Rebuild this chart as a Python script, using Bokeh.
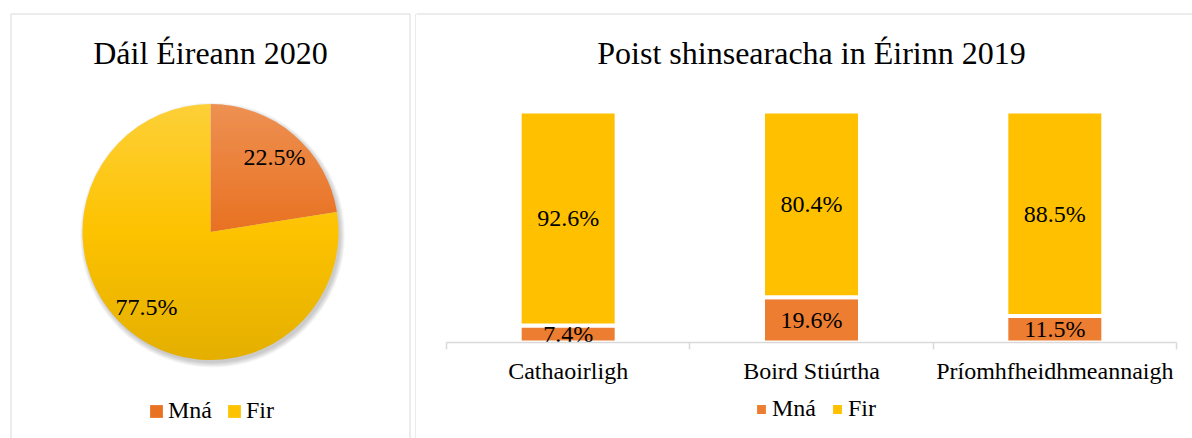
import numpy as np
from bokeh.plotting import figure
from bokeh.models import (Range1d, ColumnDataSource, Legend, LegendItem,
                          LinearAxis, FixedTicker)
from bokeh.layouts import row
from bokeh.core.properties import value
from bokeh.embed import file_html
from bokeh.resources import INLINE

# ---------------- data ----------------
pie_title = "Dáil Éireann 2020"
pie_labels = ["Mná", "Fir"]
pie_values = [22.5, 77.5]

bar_title = "Poist shinsearacha in Éirinn 2019"
bar_categories = ["Cathaoirligh", "Boird Stiúrtha", "Príomhfheidhmeannaigh"]
series_names = ["Mná", "Fir"]
bar_mna = [7.4, 19.6, 11.5]
bar_fir = [92.6, 80.4, 88.5]

# ---------------- styles ----------------
ORANGE = "#ED7D31"
YELLOW = "#FFC000"
PIE_ORANGE = "#E97222"
PIE_YELLOW = "#FDC300"
BORDER = "#D9D9D9"
FONT = "Liberation Serif"
TXT = "#000000"
LBL = "24px"

TOTAL_H = 438
LEFT_W = 416
RIGHT_W = 776

# ================= left panel: pie =================
pl = figure(width=LEFT_W, height=TOTAL_H,
            x_range=Range1d(0, LEFT_W), y_range=Range1d(TOTAL_H, 0),
            x_axis_location=None, y_axis_location=None,
            output_backend="svg", toolbar_location=None, min_border=0)
pl.grid.visible = False
pl.outline_line_color = None
pl.background_fill_color = "white"
pl.border_fill_color = "white"

# panel borders
pl.line(x=[10.5, 10.5, 409.5, 409.5], y=[460, 13.5, 13.5, 460],
        line_color=BORDER, line_width=1)
pl.line(x=[415.5, 415.5, 430], y=[460, 13.5, 13.5], line_color=BORDER, line_width=1)

pl.text(x=[210], y=[52], text=[pie_title], text_font=value(FONT),
        text_font_size=value("32px"), text_align="center",
        text_baseline="middle", text_color=TXT)

cx, cy, r = 210.0, 231.5, 128.0

# soft shadow
for k in range(6):
    pl.circle(x=[cx + 2], y=[cy + 3], radius=r + k * 0.9,
              fill_color="black", fill_alpha=0.035, line_color=None)

fracs = np.array(pie_values) / np.sum(pie_values)
cum = np.concatenate([[0.0], np.cumsum(fracs)])
start = np.pi / 2 - 2 * np.pi * cum[:-1]
end = np.pi / 2 - 2 * np.pi * cum[1:]
pie_src = ColumnDataSource(dict(start=start, end=end,
                                color=[PIE_ORANGE, PIE_YELLOW], label=pie_labels))
w = pl.wedge(x=cx, y=cy, radius=r, start_angle="start", end_angle="end",
             direction="clock", fill_color="color", line_color=None, source=pie_src)

# vertical gradient overlay (light top, darker bottom)
n_strips = 64
edges = np.linspace(cy - r, cy + r, n_strips + 1)
gx, gy, gc, ga = [], [], [], []
for i in range(n_strips):
    ys = np.linspace(edges[i], edges[i + 1], 8)
    xr = cx + np.sqrt(np.clip(r * r - (ys - cy) ** 2, 0, None))
    xl = 2 * cx - xr
    gx.append(np.concatenate([xr, xl[::-1]]))
    gy.append(np.concatenate([ys, ys[::-1]]))
    t = (cy - 0.5 * (edges[i] + edges[i + 1])) / r
    if t > 0:
        gc.append("white"); ga.append(0.22 * t)
    else:
        gc.append("black"); ga.append(0.10 * (-t))
pl.patches(xs=gx, ys=gy, fill_color=gc, fill_alpha=ga, line_color=None)

mid = 0.5 * (start + end)
lab_r = 0.77 * r
pl.text(x=cx + lab_r * np.cos(mid), y=cy - lab_r * np.sin(mid),
        text=[f"{v:.1f}%" for v in pie_values], text_font=value(FONT),
        text_font_size=value(LBL), text_align="center",
        text_baseline="middle", text_color=TXT)

leg_l = Legend(items=[LegendItem(label=value(pie_labels[i]), renderers=[w], index=i)
                      for i in range(len(pie_labels))],
               location=(148, 14), orientation="horizontal",
               glyph_width=16, glyph_height=16, label_standoff=4, spacing=14,
               padding=0, margin=0, border_line_color=None,
               background_fill_alpha=0, label_text_font=FONT,
               label_text_font_size=LBL, label_text_color=TXT)
pl.add_layout(leg_l)

# ================= right panel: stacked bars =================
X0, UX = 446.0, 243.33   # page x of first category boundary, px per category
Y0, UY = 342.0, 2.31     # page y of 0 %, px per percent


def rx(px):
    return (px - X0) / UX


def ry(py):
    return (Y0 - py) / UY


pr = figure(width=RIGHT_W, height=TOTAL_H,
            x_range=Range1d(rx(416), rx(416 + RIGHT_W)),
            y_range=Range1d(ry(TOTAL_H), ry(0)),
            x_axis_location=None, y_axis_location=None,
            output_backend="svg", toolbar_location=None, min_border=0)
pr.grid.visible = False
pr.outline_line_color = None
pr.background_fill_color = "white"
pr.border_fill_color = "white"

pr.line(x=[rx(410), rx(1300)], y=[ry(13.5), ry(13.5)], line_color=BORDER, line_width=1)

pr.text(x=[rx(811)], y=[ry(52)], text=[bar_title], text_font=value(FONT),
        text_font_size=value("32px"), text_align="center",
        text_baseline="middle", text_color=TXT)

n = len(bar_categories)
xs = np.arange(n) + 0.5
bar_src = ColumnDataSource(dict(x=xs, mna=bar_mna, fir=bar_fir))
rs = pr.vbar_stack(["mna", "fir"], x="x", width=97 / UX,
                   fill_color=[ORANGE, YELLOW], line_color="white", line_width=4,
                   source=bar_src)

mna = np.array(bar_mna)
fir = np.array(bar_fir)
lab_x = np.concatenate([xs, xs])
lab_y = np.concatenate([mna / 2, mna + fir / 2])
lab_t = [f"{v:.1f}%" for v in bar_mna] + [f"{v:.1f}%" for v in bar_fir]
pr.text(x=lab_x, y=lab_y, text=lab_t, text_font=value(FONT),
        text_font_size=value(LBL), text_align="center",
        text_baseline="middle", text_color=TXT)

ax = LinearAxis(fixed_location=0,
                ticker=FixedTicker(ticks=list(xs), minor_ticks=list(range(n + 1))),
                bounds=(0, n),
                major_label_overrides={float(x): c for x, c in zip(xs, bar_categories)},
                axis_line_color=BORDER, axis_line_width=1.5,
                major_tick_line_color=None, major_tick_in=0, major_tick_out=0,
                minor_tick_line_color=BORDER, minor_tick_line_width=1.5,
                minor_tick_in=0, minor_tick_out=7,
                major_label_standoff=8,
                major_label_text_font=FONT, major_label_text_font_size=LBL,
                major_label_text_color=TXT)
pr.add_layout(ax, "below")

leg_r = Legend(items=[LegendItem(label=value(series_names[i]), renderers=[rs[i]])
                      for i in range(len(series_names))],
               location=(337, 16), orientation="horizontal",
               glyph_width=16, glyph_height=16, label_standoff=3, spacing=13,
               padding=0, margin=0, border_line_color=None,
               background_fill_alpha=0, label_text_font=FONT,
               label_text_font_size=LBL, label_text_color=TXT)
pr.add_layout(leg_r)

layout = row(pl, pr)
open("out.html", "w").write(file_html(layout, INLINE))
